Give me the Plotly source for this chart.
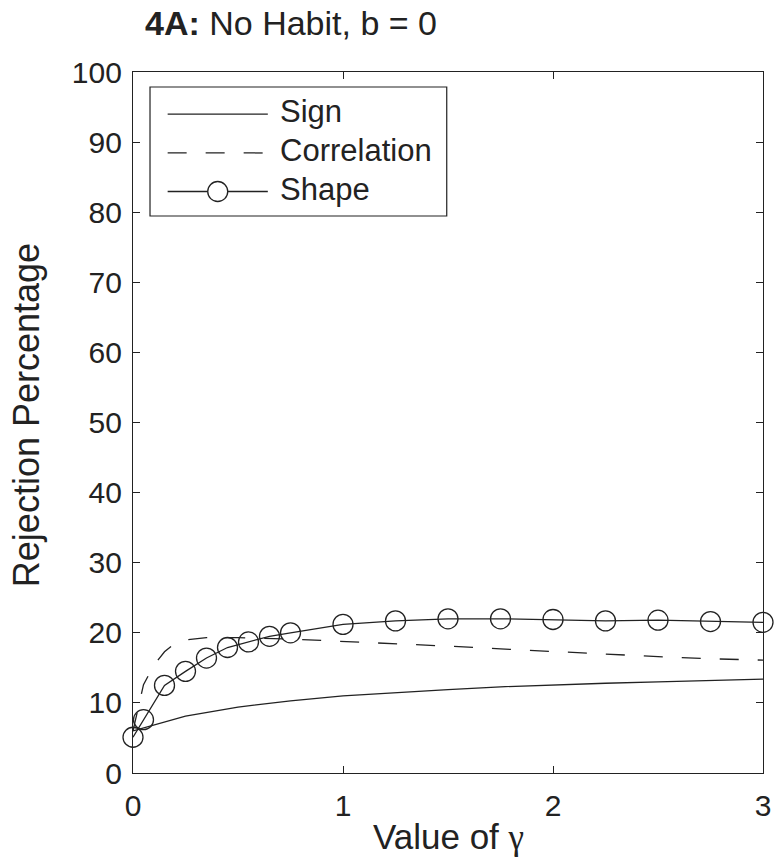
import plotly.graph_objects as go

# ---- data ----
gamma_shape = [0, 0.05, 0.15, 0.25, 0.35, 0.45, 0.55, 0.65, 0.75, 1.0,
               1.25, 1.5, 1.75, 2.0, 2.25, 2.5, 2.75, 3.0]
shape_pct = [5.1, 7.6, 12.5, 14.5, 16.4, 17.9, 18.7, 19.5, 20.0, 21.2,
             21.7, 22.0, 22.0, 21.9, 21.7, 21.8, 21.6, 21.5]

gamma_sign = [0, 0.05, 0.1, 0.25, 0.5, 0.75, 1.0, 1.25, 1.5, 1.75, 2.0,
              2.25, 2.5, 2.75, 3.0]
sign_pct = [6.0, 6.4, 6.8, 8.1, 9.4, 10.3, 11.0, 11.5, 11.9, 12.3, 12.6,
            12.8, 13.0, 13.2, 13.4]

gamma_corr = [0, 0.05, 0.1, 0.15, 0.2, 0.25, 0.35, 0.5, 0.75, 1.0, 1.25,
              1.5, 1.75, 2.0, 2.25, 2.5, 2.75, 3.0]
corr_pct = [6.0, 12.6, 15.4, 17.3, 18.5, 19.0, 19.3, 19.3, 19.1, 18.8,
            18.4, 18.1, 17.7, 17.3, 16.9, 16.6, 16.3, 16.1]

x_ticks = [0, 1, 2, 3]
y_ticks = [0, 10, 20, 30, 40, 50, 60, 70, 80, 90, 100]
legend_names = ["Sign", "Correlation", "Shape"]

INK = "#222222"
FONT = "Liberation Sans, Arial, sans-serif"
LW = 1.3
DASH = "19px,19px"

fig = go.Figure()
fig.add_trace(go.Scatter(x=gamma_sign, y=sign_pct, mode="lines",
                         line=dict(color=INK, width=LW), name=legend_names[0],
                         showlegend=False))
fig.add_trace(go.Scatter(x=gamma_corr, y=corr_pct, mode="lines",
                         line=dict(color=INK, width=LW, dash=DASH),
                         name=legend_names[1], showlegend=False))
fig.add_trace(go.Scatter(x=gamma_shape, y=shape_pct, mode="lines+markers",
                         line=dict(color=INK, width=LW),
                         marker=dict(symbol="circle-open", size=20, color=INK,
                                     line=dict(width=1.3)),
                         name=legend_names[2], showlegend=False, cliponaxis=False))

axis_common = dict(showline=True, linecolor=INK, linewidth=1.2, mirror="ticks",
                   ticks="inside", ticklen=7, tickwidth=1.2, tickcolor=INK,
                   showgrid=False, zeroline=False, automargin=False,
                   tickfont=dict(family=FONT, size=30, color=INK))

fig.update_layout(
    template="none",
    width=775, height=866,
    margin=dict(l=133, r=12, t=72, b=93, autoexpand=False),
    paper_bgcolor="white", plot_bgcolor="white",
    showlegend=False,
    xaxis=dict(range=[0, 3], tickvals=x_ticks, ticktext=[str(v) for v in x_ticks],
               ticklabelstandoff=6, **axis_common),
    yaxis=dict(range=[0, 100], tickvals=y_ticks, ticktext=[str(v) for v in y_ticks],
               ticklabelstandoff=4, **axis_common),
)

annotations = [
    dict(text="<b>4A:</b> No Habit, b = 0", x=0.016, y=1.07, xref="paper", yref="paper",
         xanchor="left", yanchor="middle", showarrow=False,
         font=dict(family=FONT, size=34, color=INK)),
    dict(text="Value of <span style=\"font-family:'Liberation Serif'\">γ</span>",
         x=0.5, y=-0.092, xref="paper", yref="paper",
         xanchor="center", yanchor="middle", showarrow=False,
         font=dict(family=FONT, size=35, color=INK)),
    dict(text="Rejection Percentage", x=-0.168, y=0.5107, xref="paper", yref="paper",
         xanchor="center", yanchor="middle", showarrow=False, textangle=-90,
         font=dict(family=FONT, size=36, color=INK)),
]

# ---- hand-drawn MATLAB-style legend ----
leg_y = [0.940, 0.8845, 0.8295]
line_x0, line_x1, text_x = 0.0550, 0.2140, 0.2302
shapes = [dict(type="rect", xref="paper", yref="paper", x0=0.027, x1=0.498,
               y0=0.7946, y1=0.9786, line=dict(color=INK, width=1.2),
               fillcolor="white", layer="above")]
styles = ["solid", DASH, "solid"]
for name, yy, st in zip(legend_names, leg_y, styles):
    shapes.append(dict(type="line", xref="paper", yref="paper", x0=line_x0, x1=line_x1,
                       y0=yy, y1=yy, line=dict(color=INK, width=LW, dash=st),
                       layer="above"))
    annotations.append(dict(text=name, x=text_x, y=yy + 0.003, xref="paper", yref="paper",
                            xanchor="left", yanchor="middle", showarrow=False,
                            font=dict(family=FONT, size=31, color=INK)))
shapes.append(dict(type="circle", xref="paper", yref="paper",
                   xsizemode="pixel", ysizemode="pixel",
                   xanchor=(line_x0 + line_x1) / 2, yanchor=leg_y[2],
                   x0=-10, x1=10, y0=-10, y1=10,
                   line=dict(color=INK, width=1.3), fillcolor="white", layer="above"))

fig.update_layout(annotations=annotations, shapes=shapes)
fig.write_html("out.html")
